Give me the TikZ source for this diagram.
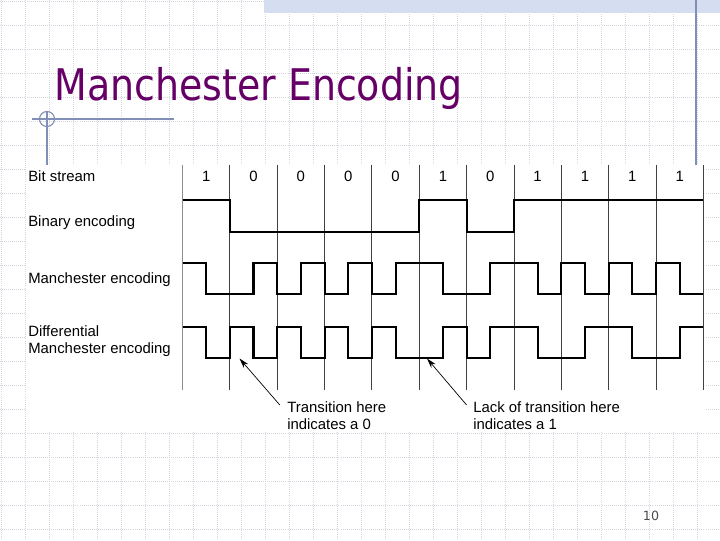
\documentclass[tikz,border=0pt]{standalone}
\usepackage{fontspec}
\setmainfont{Liberation Sans}
\newfontfamily\titlefont[FakeStretch=0.87]{DejaVu Sans}
\newfontfamily\numfont{DejaVu Sans}
\usetikzlibrary{arrows.meta}
\definecolor{morado}{RGB}{102,0,102}
\definecolor{grisclaro}{RGB}{212,214,224}
\definecolor{azulguia}{RGB}{128,142,184}
\definecolor{azulbanda}{RGB}{212,222,240}

\begin{document}
\begin{tikzpicture}[
	x=0.025cm, y=-0.025cm,
	etiqueta/.style={
		anchor=base west,
		inner sep=0pt,
		align=left,
		font=\fontsize{10.6}{12.2}\selectfont
	},
	bit/.style={anchor=base, inner sep=0pt, font=\fontsize{10.6}{12.2}\selectfont},
	onda/.style={line width=1.5pt},
	divisor/.style={black!75, line width=0.6pt},
	rejilla/.style={grisclaro, densely dotted, line width=0.45pt},
	guia/.style={azulguia, line width=0.8pt},
	arrow/.style={-{Stealth[length=7pt, width=4pt]}, line width=0.5pt}
]
\useasboundingbox (0,0) rectangle (720,540);

% Fondo de la diapositiva
\foreach \g in {1,25,...,721} \draw[rejilla] (\g,0) -- (\g,540);
\foreach \g in {1,25,...,529} \draw[rejilla] (0,\g) -- (720,\g);
\fill[azulbanda] (264,0) rectangle (720,12.5);
\draw[guia] (696,0) -- (696,165);
\draw[guia] (47,119) circle (7.5);
\draw[guia] (32,119) -- (174,119);
\draw[guia] (47,111) -- (47,165);
\fill[white] (26,165) rectangle (703.5,431);

% Titulo
\node[anchor=base west, inner sep=0pt, text=morado, font=\titlefont\fontsize{31}{36}\selectfont] (titulo) at (54,100) {Manchester Encoding};

% Rotulos de las filas
\node[etiqueta] (flujo) at (28,181.5) {Bit stream};
\node[etiqueta] (binario) at (28,226.5) {Binary encoding};
\node[etiqueta] (manch) at (28,283.5) {Manchester encoding};
\node[etiqueta, font=\fontsize{10.6}{12.3}\selectfont] (difman) at (28,353.5) {Differential\\Manchester encoding};

% Bits y divisiones
\foreach \b [count=\i] in {1,0,0,0,0,1,0,1,1,1,1}
	\node[bit] (b\i) at ({182.5+47.35*(\i-0.5)},181.5) {\b};
\draw[black!45, line width=0.6pt] (182.5,165) -- (182.5,390);
\foreach \i in {1,...,11}
	\draw[divisor] ({182.5+47.35*\i},165) -- ({182.5+47.35*\i},390);

% Codificacion binaria
\draw[onda] (182.5,200) -- (229.85,200) -- (229.85,232) -- (419.25,232) -- (419.25,200)
	-- (466.6,200) -- (466.6,232) -- (513.95,232) -- (513.95,200) -- (703.35,200);

% Codificacion Manchester
\draw[onda] (182.5,263) -| (206.2,294) -| (253.5,263) -| (277.2,294) -| (300.9,263)
	-| (324.55,294) -| (348.2,263) -| (371.9,294) -| (395.6,263) -| (442.9,294)
	-| (490.3,263) -| (537.6,294) -| (561.3,263) -| (585.0,294) -| (608.65,263)
	-| (632.3,294) -| (656,263) -| (679.7,294) -- (703.35,294);

% Manchester diferencial
\draw[onda] (182.5,327) -| (206.2,358) -| (229.85,327) -| (253.5,358) -| (277.2,327)
	-| (300.9,358) -| (324.55,327) -| (348.2,358) -| (371.9,327) -| (395.6,358)
	-| (442.9,327) -| (466.6,358) -| (490.3,327) -| (537.6,358) -| (585.0,327)
	-| (632.3,358) -| (679.7,327) -- (703.35,327);

% Notas
\node[etiqueta, font=\fontsize{10.6}{11.7}\selectfont] (trans0) at (287,429) {Transition here\\indicates a 0};
\node[etiqueta, font=\fontsize{10.6}{11.7}\selectfont] (sintrans1) at (473,429) {Lack of transition here\\indicates a 1};
\coordinate (punta0) at (239.5,358.5);
\coordinate (punta1) at (427,358.5);
\draw[arrow] ([xshift=-0.18cm, yshift=0.6cm]trans0.base west) -- (punta0);
\draw[arrow] ([xshift=-0.16cm, yshift=0.6cm]sintrans1.base west) -- (punta1);

% Numero de pagina
\node[inner sep=0pt, text=black!70, font=\numfont\fontsize{9}{10}\selectfont] (pagina) at (651,516) {10};

\end{tikzpicture}
\end{document}
